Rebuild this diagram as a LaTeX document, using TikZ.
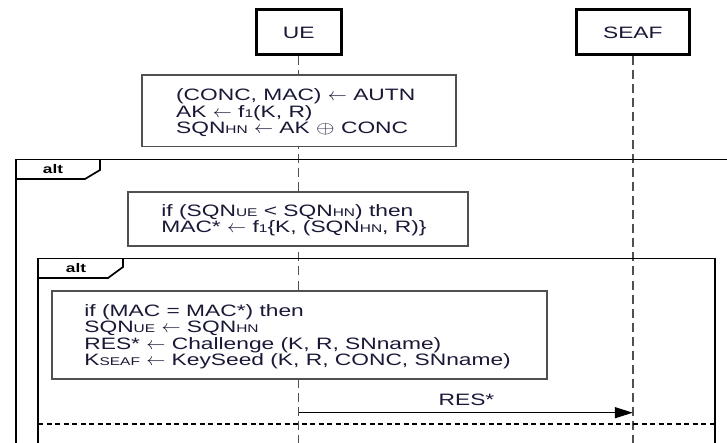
\documentclass[tikz,border=0pt]{standalone}
\usepackage{fontspec}
\setmainfont{Liberation Sans}
\usepackage{graphicx}
\usetikzlibrary{arrows.meta}
\definecolor{txt}{RGB}{25,25,55}
\definecolor{boxgray}{RGB}{80,80,80}
\newcommand\sx[1]{\scalebox{1.38}[1]{#1}}
\newcommand\lo[1]{{\fontsize{11.2}{12}\selectfont #1}}
\newcommand\la{\scalebox{0.8}[1]{$\leftarrow$}}
\begin{document}
\begin{tikzpicture}[x=1pt,y=-1pt,
  actor/.style={draw=black, line width=3pt, fill=white, minimum width=#1,
    minimum height=45pt, inner sep=0pt, font=\fontsize{16.5}{16.5}\selectfont, text=txt},
  procbox/.style={draw=boxgray, line width=1.6pt, fill=white, inner sep=0pt},
  proctext/.style={anchor=west, align=left, inner sep=0pt,
    font=\fontsize{16.5}{16.5}\selectfont, text=txt},
  lifeline/.style={draw=boxgray, line width=1.4pt, dash pattern=on 9pt off 5pt},
  frame/.style={draw=black, line width=1.7pt},
  sepline/.style={draw=black, line width=1.4pt, dash pattern=on 5pt off 3.5pt},
  msg/.style={draw=black, line width=1.3pt, -{Triangle[length=18pt,width=11pt]}},
  alttext/.style={font=\fontsize{12.5}{14}\selectfont\bfseries, text=black, inner sep=0pt},
  msgtext/.style={font=\fontsize{16.5}{16.5}\selectfont, text=txt, inner sep=0pt}
]
\useasboundingbox (0,0) rectangle (727,443);
\clip (0,0) rectangle (727,443);

% actors
\node[actor=85pt] (ue) at (298.7,32.5) {\sx{UE}};
\node[actor=112.6pt] (seaf) at (632.8,32.5) {\sx{SEAF}};

% lifelines
\draw[lifeline] (ue.south) -- ++(0,420);
\draw[lifeline] (seaf.south) -- ++(0,420);

% outer alt frame
\draw[frame] (16,470) -- (16,159.5) -- (740,159.5);
\draw[frame] (100,159.5) -- (100,170) -- (85,179) -- (16,179);
\node[alttext] (alt1) at (53,169.5) {\sx{alt}};

% inner alt frame
\draw[frame] (38,470) -- (38,258.5) -- (715,258.5) -- (715,470);
\draw[frame] (123,258.5) -- (123,267) -- (108,278) -- (38,278);
\node[alttext] (alt2) at (76,268) {\sx{alt}};

% box 1
\node[procbox, minimum width=314.3pt, minimum height=71.7pt] (b1) at (298.85,110.85) {};
\node[proctext, yshift=-2pt] (t1) at ([xshift=35pt]b1.west) {%
  \sx{(CONC, MAC) \la\ AUTN}\\
  \sx{AK \la\ f\lo{1}(K, R)}\\
  \sx{SQN\lo{HN} \la\ AK $\oplus$ CONC}};

% box 2
\node[procbox, minimum width=340pt, minimum height=54pt] (b2) at (298,219) {};
\node[proctext, yshift=-1pt] (t2) at ([xshift=34pt]b2.west) {%
  \sx{if (SQN\lo{UE} < SQN\lo{HN}) then}\\
  \sx{MAC* \la\ f\lo{1}\{K, (SQN\lo{HN}, R)\}}};

% box 3
\node[procbox, minimum width=495.3pt, minimum height=88pt] (b3) at (299.35,335) {};
\node[proctext, yshift=-1.5pt] (t3) at ([xshift=33.3pt]b3.west) {%
  \sx{if (MAC = MAC*) then}\\
  \sx{SQN\lo{UE} \la\ SQN\lo{HN}}\\
  \sx{RES* \la\ Challenge (K, R, SNname)}\\
  \sx{K\lo{SEAF} \la\ KeySeed (K, R, CONC, SNname)}};

% message
\coordinate (mA) at (298.7,412.7);
\coordinate (mB) at (632.8,412.7);
\draw[msg] (mA) -- (mB);
\node[msgtext] (res) at (466.5,400) {\sx{RES*}};

% separator
\coordinate (sL) at (38,424);
\coordinate (sR) at (715,424);
\draw[sepline] (sL) -- (sR);
\end{tikzpicture}
\end{document}
